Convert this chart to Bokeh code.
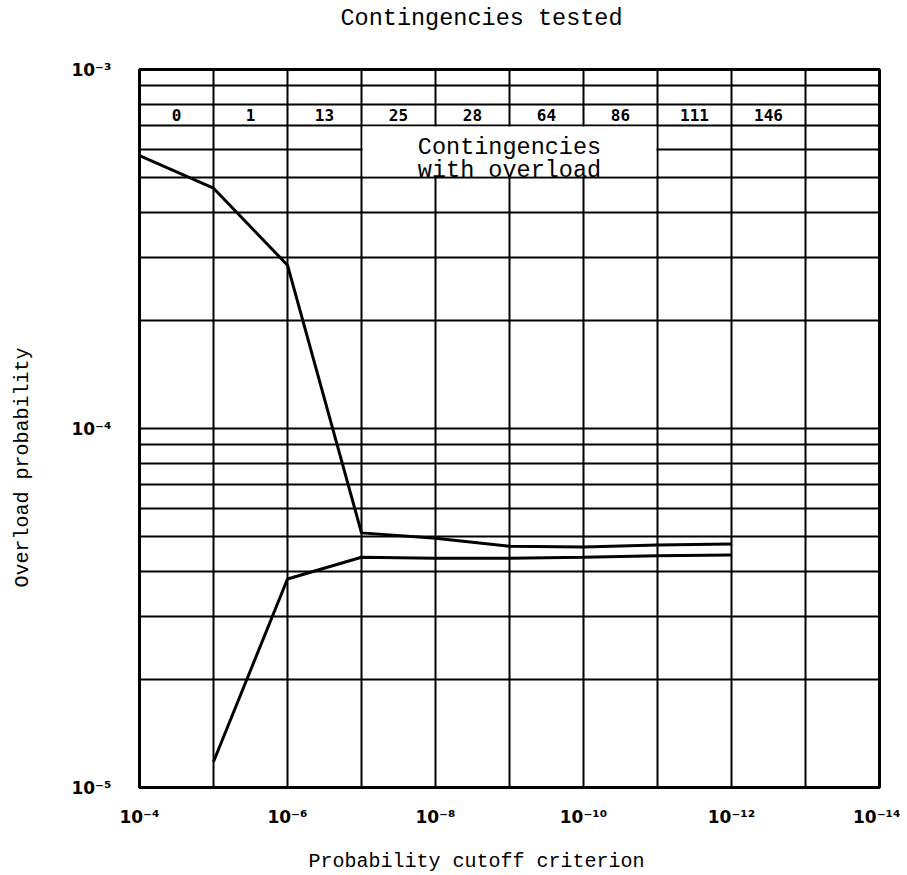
from bokeh.plotting import figure
from bokeh.models import FixedTicker, Range1d, Title
from bokeh.core.properties import value
from bokeh.embed import file_html
from bokeh.resources import INLINE

# ---- axes / ticks ----
cutoff_decades = [1e-4, 1e-5, 1e-6, 1e-7, 1e-8, 1e-9, 1e-10, 1e-11, 1e-12, 1e-13, 1e-14]
x_label_ticks = [1e-4, 1e-6, 1e-8, 1e-10, 1e-12, 1e-14]
x_tick_labels = ["10⁻⁴", "10⁻⁶", "10⁻⁸", "10⁻¹⁰", "10⁻¹²", "10⁻¹⁴"]
y_label_ticks = [1e-5, 1e-4, 1e-3]
y_tick_labels = ["10⁻⁵", "10⁻⁴", "10⁻³"]
y_minor_multiples = [2, 3, 4, 5, 6, 7, 8, 9]

# ---- data ----
upper_x = [1e-4, 1e-5, 1e-6, 1e-7, 1e-8, 1e-9, 1e-10, 1e-11, 1e-12]
upper_y = [5.76e-4, 4.67e-4, 2.85e-4, 5.12e-5, 4.95e-5, 4.70e-5, 4.68e-5, 4.74e-5, 4.77e-5]
lower_x = [1e-5, 1e-6, 1e-7, 1e-8, 1e-9, 1e-10, 1e-11, 1e-12]
lower_y = [1.18e-5, 3.81e-5, 4.38e-5, 4.35e-5, 4.35e-5, 4.38e-5, 4.42e-5, 4.44e-5]

tested_counts = ["0", "1", "13", "25", "28", "64", "86", "111", "146"]

title_text = "Contingencies tested"
x_title = "Probability cutoff criterion"
y_title = "Overload probability"
box_lines = ["Contingencies", "with overload"]

mono = "Liberation Mono"

p = figure(width=900, height=874,
           x_axis_type="log", y_axis_type="log",
           x_range=Range1d(1e-4, 1e-14), y_range=Range1d(1e-5, 1e-3),
           output_backend="svg", toolbar_location=None,
           min_border_left=139, min_border_right=21,
           min_border_top=69, min_border_bottom=87,
           background_fill_color="white", border_fill_color="white")
p.title = None

p.outline_line_color = "black"
p.outline_line_width = 3

# grids
y_minor = [m * d for d in y_label_ticks[:-1] for m in y_minor_multiples]
p.xgrid.ticker = FixedTicker(ticks=cutoff_decades)
p.ygrid.ticker = FixedTicker(ticks=y_label_ticks, minor_ticks=y_minor)
for g in (p.xgrid, p.ygrid):
    g.grid_line_color = "black"
    g.grid_line_width = 2
    g.grid_line_alpha = 1
p.ygrid.minor_grid_line_color = "black"
p.ygrid.minor_grid_line_width = 2

# axes
p.xaxis.ticker = FixedTicker(ticks=x_label_ticks)
p.yaxis.ticker = FixedTicker(ticks=y_label_ticks)
p.xaxis.major_label_overrides = dict(zip(x_label_ticks, x_tick_labels))
p.yaxis.major_label_overrides = dict(zip(y_label_ticks, y_tick_labels))
for ax in (p.xaxis, p.yaxis):
    ax.axis_line_color = None
    ax.major_tick_line_color = None
    ax.minor_tick_line_color = None
    ax.major_label_text_font = "DejaVu Sans"
    ax.major_label_text_font_style = "bold"
    ax.major_label_text_font_size = "17px"
    ax.major_label_text_color = "black"
p.xaxis.major_label_standoff = 13
p.yaxis.major_label_standoff = 22


def spacer(px):
    return Title(text=" ", text_font_size="10px", standoff=px)


def label(text, size, offset, standoff):
    return Title(text=text, align="left", offset=offset, vertical_align="middle",
                 text_font=mono, text_font_size=size, text_font_style="normal",
                 text_color="black", standoff=standoff)


# top title: spacer next to the frame, title outside it
p.add_layout(spacer(22), "above")
p.add_layout(label(title_text, "23.5px", 201, 4), "above")
# left label
p.add_layout(spacer(17), "left")
p.add_layout(label(y_title, "20px", 200, 8), "left")
# bottom label
p.add_layout(spacer(5), "below")
p.add_layout(label(x_title, "20px", 169, 2), "below")

# white label box in the table area
p.quad(left=[10 ** -7.015], right=[10 ** -10.985], bottom=[5.04e-4], top=[6.94e-4],
       fill_color="white", line_color=None)
p.text(x=[1e-9, 1e-9], y=[6.06e-4, 5.23e-4], text=box_lines,
       text_font=value(mono), text_font_size="23.5px", text_align="center",
       text_baseline="alphabetic", text_color="black")

# counts row
count_x = [(cutoff_decades[i] * cutoff_decades[i + 1]) ** 0.5 for i in range(len(tested_counts))]
row_y = (8e-4 * 7e-4) ** 0.5
p.text(x=count_x, y=[row_y] * len(count_x), text=tested_counts,
       text_font=value("DejaVu Sans Mono"), text_font_style="bold", text_font_size="16px",
       text_align="center", text_baseline="middle", text_color="black")

# curves
p.line(upper_x, upper_y, line_color="black", line_width=3)
p.line(lower_x, lower_y, line_color="black", line_width=3)

open("out.html", "w").write(file_html(p, INLINE))
